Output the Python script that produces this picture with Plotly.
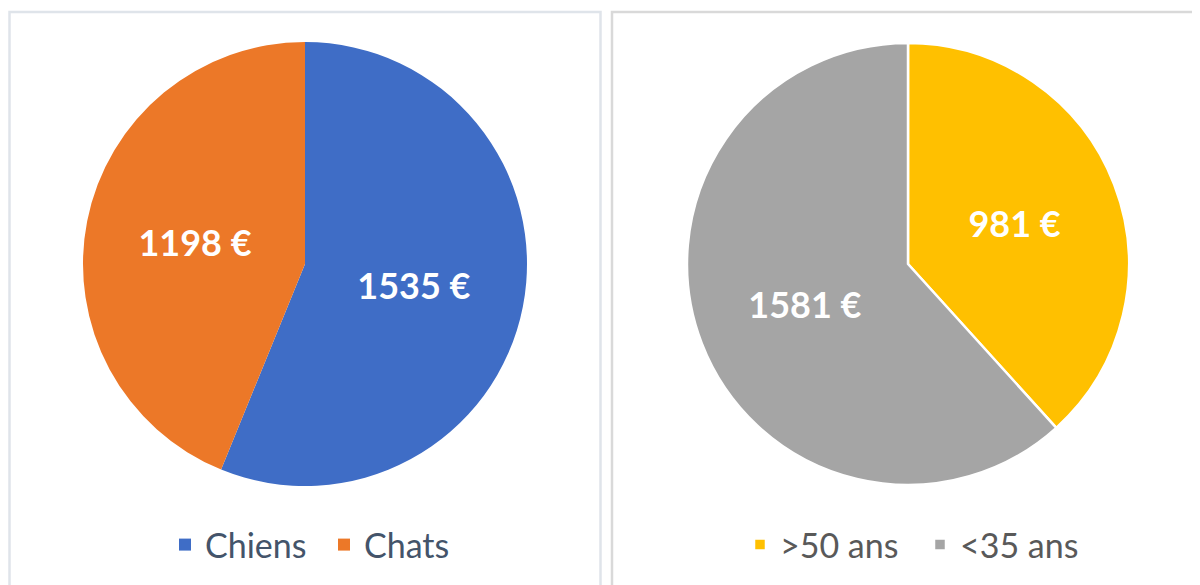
import plotly.graph_objects as go

# data
animaux = ['Chiens', 'Chats']
depenses_animaux = [1535, 1198]
ages = ['>50 ans', '<35 ans']
depenses_ages = [981, 1581]

couleurs_animaux = ['#3f6dc6', '#ec7828']
couleurs_ages = ['#ffc000', '#a5a5a5']

W, H = 1200, 585
OFF = 8  # the page body adds an 8px margin


def px(x):
    return (x - OFF) / W


def py(y):
    return (H - (y - OFF)) / H


fig = go.Figure()

fig.add_trace(go.Pie(
    labels=animaux, values=depenses_animaux,
    text=[f'{v} €' for v in depenses_animaux],
    textinfo='text', textposition='inside', insidetextorientation='horizontal',
    sort=False, direction='clockwise', rotation=0,
    marker=dict(colors=couleurs_animaux, line=dict(color='white', width=0)),
    textfont=dict(family='Lato', size=36, color='white', weight='bold'),
    domain=dict(x=[px(83), px(527)], y=[py(486), py(42)]),
    hoverinfo='label+value', legend='legend',
))

fig.add_trace(go.Pie(
    labels=ages, values=depenses_ages,
    text=[f'{v} €' for v in depenses_ages],
    textinfo='text', textposition='inside', insidetextorientation='horizontal',
    sort=False, direction='clockwise', rotation=0,
    marker=dict(colors=couleurs_ages, line=dict(color='white', width=2.5)),
    textfont=dict(family='Lato', size=36, color='white', weight='bold'),
    domain=dict(x=[px(687), px(1129)], y=[py(485), py(43)]),
    hoverinfo='label+value', legend='legend2',
))

# panel borders
fig.add_shape(type='rect', xref='paper', yref='paper',
              x0=px(9.5), x1=px(600.5), y0=-0.05, y1=py(12),
              line=dict(color='#dfe4ea', width=2.5), fillcolor='rgba(0,0,0,0)')
fig.add_shape(type='rect', xref='paper', yref='paper',
              x0=px(612), x1=1.05, y0=-0.05, y1=py(12),
              line=dict(color='#d9d9d9', width=2.5), fillcolor='rgba(0,0,0,0)')

fig.update_layout(
    width=W, height=H,
    margin=dict(l=0, r=0, t=0, b=0),
    paper_bgcolor='white', plot_bgcolor='white',
    showlegend=True,
    legend=dict(orientation='h', x=px(165), y=py(545),
                xanchor='left', yanchor='middle',
                font=dict(family='Lato', size=34, color='#44546a'),
                itemwidth=30, entrywidth=114, bgcolor='rgba(0,0,0,0)'),
    legend2=dict(orientation='h', x=px(740), y=py(545),
                 xanchor='left', yanchor='middle',
                 font=dict(family='Lato', size=34, color='#595959'),
                 itemwidth=30, entrywidth=135, bgcolor='rgba(0,0,0,0)'),
)

fig.write_html('out.html')
